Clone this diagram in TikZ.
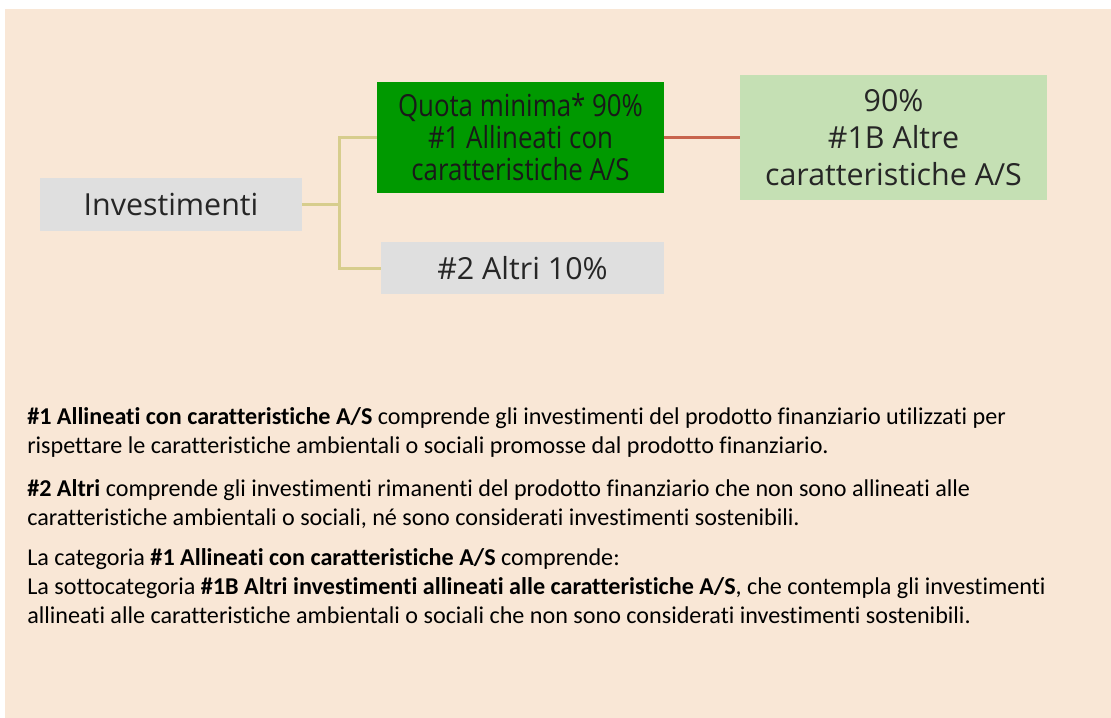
\documentclass[tikz,border=0pt]{standalone}
\usepackage{fontspec}
\setmainfont{Carlito}[Ligatures=NoCommon]
\newfontfamily\boxfont{Open Sans}
\newfontfamily\narrowfont[FakeStretch=0.85]{Open Sans}
\usetikzlibrary{positioning}
\definecolor{bgpeach}{HTML}{F9E7D6}
\definecolor{boxgray}{HTML}{DFDFDF}
\definecolor{darkgreen}{HTML}{009900}
\definecolor{palegreen}{HTML}{C5E0B4}
\definecolor{branchtan}{HTML}{D7CD8D}
\definecolor{linkred}{HTML}{C8644D}
\definecolor{boxtext}{HTML}{262626}

\begin{document}
\begin{tikzpicture}[x=0.75pt,y=-0.75pt,
    box/.style={inner sep=0pt, align=center, text=boxtext,
                font=\boxfont\fontsize{22.8}{27.75}\selectfont},
    graybox/.style={box, fill=boxgray},
    branch/.style={draw=branchtan, line width=2.25pt},
    link/.style={draw=linkred, line width=2.25pt},
    para/.style={inner sep=0pt, align=left, anchor=base west, text=black,
                 font=\fontsize{18.1}{21.75}\selectfont}]

  \useasboundingbox (0,0) rectangle (1111,718);
  \fill [bgpeach] (5,9) rectangle (1111,718);

  \node (invest) [graybox, minimum width=196.5pt, minimum height=39.75pt]
        at (171,204.5) {Investimenti};

  \node (quota) [box, fill=darkgreen, text=black!90,
                 minimum width=215.25pt, minimum height=83.25pt,
                 font=\narrowfont\fontsize{22.8}{24}\selectfont]
        at (520.5,137.5) {Quota minima* 90\%\\ \#1 Allineati con\\
          caratteristiche A/S};

  \node (altre) [box, fill=palegreen,
                 minimum width=230.25pt, minimum height=93.75pt]
        at (893.5,137.5) {90\%\\ \#1B Altre\\ caratteristiche A/S};

  \node (altri) [graybox, minimum width=212.25pt, minimum height=39pt]
        at (522.5,268) {\#2 Altri 10\%};

  \coordinate (split) at (339,204.5);
  \draw [branch] (invest.east) -- (split) |- (quota.west);
  \draw [branch] (split) |- (altri.west);
  \draw [link] (quota.east) -- (altre.west);

  \node (p1) [para] at (27,453)
        {\textbf{\#1 Allineati con caratteristiche A/S} comprende gli
          investimenti del prodotto finanziario utilizzati per\\
          rispettare le caratteristiche ambientali o sociali promosse
          dal prodotto finanziario.};

  \node (p2) [para] at (27,525)
        {\textbf{\#2 Altri} comprende gli investimenti rimanenti del
          prodotto finanziario che non sono allineati alle\\
          caratteristiche ambientali o sociali, né sono considerati
          investimenti sostenibili.};

  \node (p3) [para] at (27,623)
        {La categoria \textbf{\#1 Allineati con caratteristiche A/S}
          comprende:\\
          La sottocategoria \textbf{\#1B Altri investimenti allineati
            alle caratteristiche A/S}, che contempla gli investimenti\\
          allineati alle caratteristiche ambientali o sociali che non
          sono considerati investimenti sostenibili.};

\end{tikzpicture}
\end{document}
